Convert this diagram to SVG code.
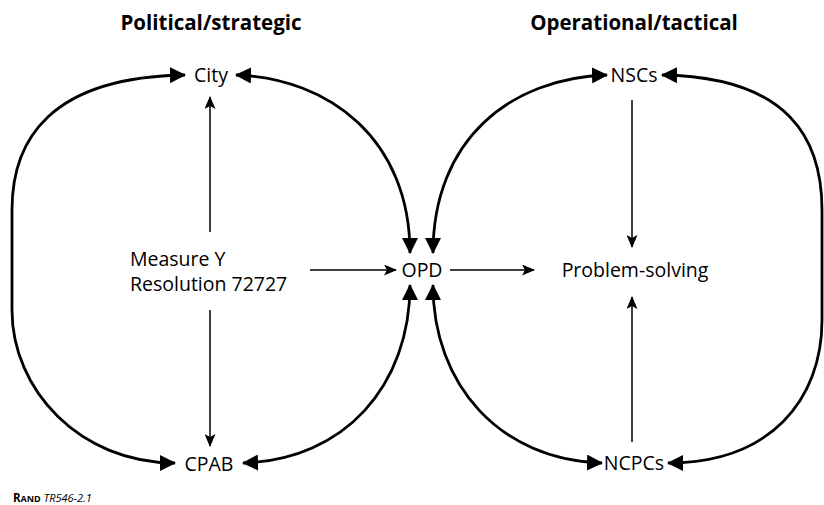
<svg xmlns="http://www.w3.org/2000/svg" width="824" height="505" viewBox="0 0 824 505">
<defs>
<style>
.t{font-family:"Open Sans","Liberation Sans",sans-serif;font-size:19.5px;fill:#000}
.h{font-family:"Open Sans","Liberation Sans",sans-serif;font-size:20.5px;font-weight:bold;fill:#000}
.arc{fill:none;stroke:#000;stroke-width:2.8;marker-start:url(#big);marker-end:url(#big)}
.ln{fill:none;stroke:#000;stroke-width:1.5;marker-end:url(#small)}
</style>
<marker id="big" viewBox="0 0 16 16" refX="15" refY="8" markerWidth="16" markerHeight="16" markerUnits="userSpaceOnUse" orient="auto-start-reverse"><path d="M0,0 L16,8 L0,16 z" fill="#000"/></marker>
<marker id="small" viewBox="0 0 13 11" refX="12" refY="5.5" markerWidth="13" markerHeight="11" markerUnits="userSpaceOnUse" orient="auto"><path d="M0,0 L13,5.5 L0,11 L3,5.5 z" fill="#000"/></marker>
</defs>
<rect width="824" height="505" fill="#fff"/>
<g id="title-left"><text class="h" x="211" y="30" text-anchor="middle">Political/strategic</text></g>
<g id="title-right"><text class="h" x="634" y="30" text-anchor="middle">Operational/tactical</text></g>
<g id="connectors">
<path class="arc" d="M185,75 C50,77 12,140 12,210 L12,310 C12,390 80,463 175,463"/>
<path class="arc" d="M236,75 C330,78 410,140 410,253"/>
<path class="arc" d="M243,463 C345,460 410,385 410,285"/>
<path class="arc" d="M607,75 C510,78 433,140 433,253"/>
<path class="arc" d="M602,463 C500,460 433,385 433,285"/>
<path class="arc" d="M662,75 C790,77 822,140 822,210 L822,320 C822,400 770,463 668,463"/>
<path class="ln" d="M210,232 L210,97"/>
<path class="ln" d="M210,310 L210,446"/>
<path class="ln" d="M310,270 L396,270"/>
<path class="ln" d="M450,270 L534,270"/>
<path class="ln" d="M632,100 L632,247"/>
<path class="ln" d="M632,442 L632,297"/>
</g>
<g id="city"><text class="t" x="211" y="82" text-anchor="middle">City</text></g>
<g id="nscs"><text class="t" x="634" y="82" text-anchor="middle">NSCs</text></g>
<g id="measure"><text class="t" x="130" y="266">Measure Y</text><text class="t" x="130" y="291">Resolution 72727</text></g>
<g id="opd"><text class="t" x="422" y="277" text-anchor="middle">OPD</text></g>
<g id="problem-solving"><text class="t" x="635" y="277" text-anchor="middle">Problem-solving</text></g>
<g id="cpab"><text class="t" x="209" y="471" text-anchor="middle">CPAB</text></g>
<g id="ncpcs"><text class="t" x="634" y="470" text-anchor="middle">NCPCs</text></g>
<g id="footer"><text x="13" y="502" font-family="'Open Sans','Liberation Sans',sans-serif" fill="#000"><tspan font-weight="bold" font-size="11.5">R</tspan><tspan font-weight="bold" font-size="9">AND</tspan><tspan font-style="italic" font-size="11"> TR546-2.1</tspan></text></g>
</svg>
